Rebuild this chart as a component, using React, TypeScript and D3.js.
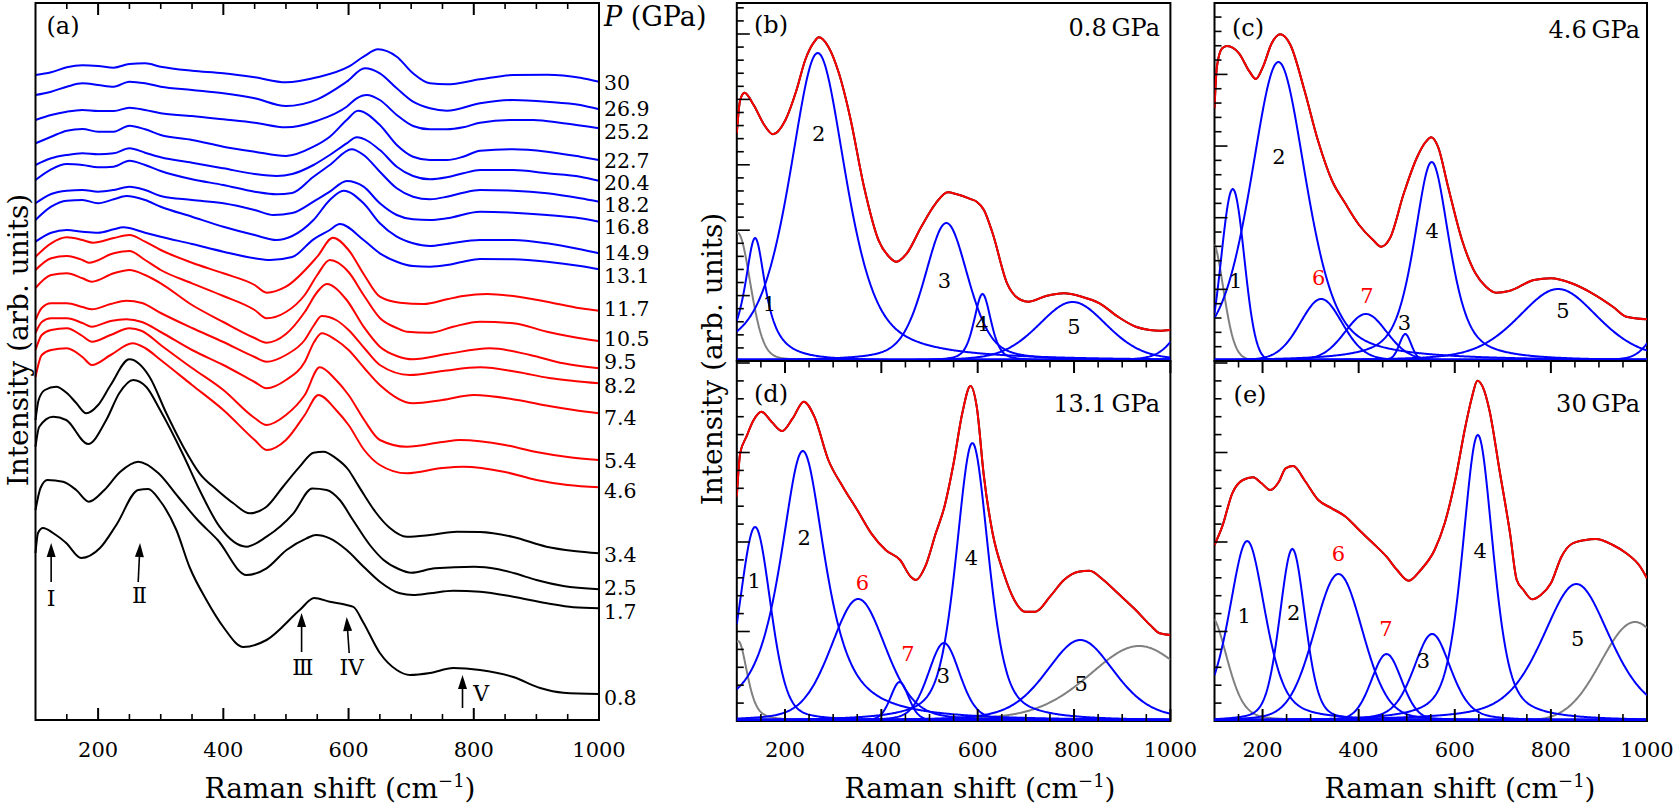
import React from 'react';
import * as d3 from 'd3';

type Pt = [number, number];
type Peak = { c: number; h: number; w: number; eta: number };

// ================= Panel (a): Raman shift (cm^-1) vs stacked intensity (arb. units) =================
const pressureLabels = ['30', '26.9', '25.2', '22.7', '20.4', '18.2', '16.8', '14.9', '13.1', '11.7', '10.5', '9.5', '8.2', '7.4', '5.4', '4.6', '3.4', '2.5', '1.7', '0.8'];

const spec30: Pt[] = [[100,645],[125,647.7],[150,652.7],[175,654.7],[200,654],[225,652.3],[250,656],[275,656.7],[300,653.3],[350,649.3],[400,646.7],[450,642.7],[500,637.7],[550,642.7],[600,653.3],[624,663.3],[647,670.7],[677,663.3],[703,646.7],[730,636.7],[757,635.7],[810,640.7],[863,645],[917,645.3],[970,642.3],[1000,638.3]];
const spec269: Pt[] = [[100,625],[125,628.3],[150,633.3],[175,636.7],[200,635],[225,633.3],[250,638.3],[275,636.7],[300,633.3],[350,630],[400,626.7],[450,621.7],[500,614],[550,620.7],[597,638.3],[626,651.7],[650,646.7],[677,631.7],[703,618.3],[730,611.7],[757,609.3],[810,616.7],[863,620],[917,618.3],[970,615],[1000,610.7]];
const spec252: Pt[] = [[100,600],[125,605],[150,608.3],[175,610],[200,609],[225,609],[250,612.3],[275,610],[300,606.7],[350,604],[400,600.7],[450,597.3],[500,592.7],[550,599.3],[597,613.3],[613,621.7],[629,625],[650,620],[677,605],[703,594],[730,590.7],[757,590.7],[783,592.7],[810,597.3],[863,600],[895,600],[943,596.7],[1000,591.7]];
const spec227: Pt[] = [[100,576.7],[125,583.3],[150,589.3],[175,591],[200,588.3],[225,588.3],[250,594.3],[275,590.7],[300,585],[350,580],[400,573.3],[450,568.3],[500,564],[544,573.3],[570,583.3],[597,600],[615,609.3],[650,595],[677,575],[703,563.3],[730,560],[757,560],[783,563.3],[810,569.3],[863,570.7],[917,568.3],[970,563.3],[1000,560]];
const spec204: Pt[] = [[100,555],[125,561.7],[150,565],[175,566.7],[200,565.7],[225,566.7],[250,571.7],[275,567.3],[300,562.7],[350,557.3],[400,551.7],[450,546],[485,544],[510,546],[544,555],[570,565],[597,576.7],[613,582.7],[650,570],[677,553.3],[703,544],[730,540.7],[757,542.7],[783,546.7],[810,550],[863,550],[917,546.7],[970,543.3],[1000,539.3]];
const spec182: Pt[] = [[100,540],[125,550.7],[150,556],[175,555],[200,552.7],[225,553.3],[250,559.3],[275,555],[300,549],[350,540.7],[400,535],[450,528.3],[485,525.7],[510,527],[544,543.3],[570,555],[605,570.7],[624,565],[650,548.3],[677,531.7],[703,523.3],[730,520.7],[757,523.3],[783,527.3],[810,530],[863,529.3],[917,526.7],[970,521.7],[1000,518.3]];
const spec168: Pt[] = [[100,516.7],[125,526],[150,529.3],[175,530],[200,528.3],[225,530],[250,533.3],[275,530],[300,524],[350,520],[400,516.7],[450,510],[480,505],[510,507],[544,518.3],[570,528.3],[597,539],[624,533.3],[650,516.7],[677,505],[703,500.7],[730,500],[757,501.7],[810,508.3],[863,507.3],[917,505],[970,501.7],[1000,498.3]];
const spec149: Pt[] = [[100,500],[125,513.3],[150,519.3],[175,520],[200,516.7],[225,520.7],[245,524],[275,520],[300,513.3],[350,503.3],[400,493.3],[450,485],[485,480],[510,484],[544,500],[570,520],[592,529.3],[624,516.7],[650,496.7],[677,483.3],[703,476.7],[730,474],[757,476],[810,480],[863,480],[917,476.7],[970,470.7],[1000,466.7]];
const spec131: Pt[] = [[100,478.3],[125,487.3],[150,490],[175,488.3],[200,487.3],[225,490.7],[240,492.7],[275,487.3],[300,483.3],[350,476],[400,468.3],[450,461.7],[475,460],[510,463],[544,480.7],[570,490],[586,496],[624,480],[650,466.7],[677,458.3],[703,454],[730,453.3],[757,455],[783,458.3],[810,461],[863,460.7],[917,458.3],[970,454],[1000,450.7]];
const spec117: Pt[] = [[100,463.3],[125,476.7],[150,482.7],[175,480],[192,477.3],[225,482],[250,485],[275,478.3],[300,470],[350,457.3],[400,446.7],[450,435],[469,427.3],[500,433.3],[550,463.3],[575,482.3],[600,470],[625,445],[650,423.3],[682,417.3],[720,416],[757,420.7],[783,424],[821,426],[863,424],[917,418.3],[970,411.7],[1000,409.3]];
const spec105: Pt[] = [[100,450],[125,461.7],[150,464],[175,460],[185,457.3],[225,466.7],[250,469],[275,460],[300,450],[350,436.7],[400,424],[450,410],[469,401.7],[500,408],[530,425],[550,445],[570,460],[600,448],[624,425],[650,402],[677,392],[693,388.3],[730,387.3],[767,393.3],[810,398.3],[863,396.7],[917,388.3],[970,381.7],[1000,379]];
const spec95: Pt[] = [[100,432],[125,445],[150,446.7],[175,441.7],[190,438.3],[225,446.7],[250,450],[275,445],[300,436.7],[350,415],[400,398],[450,382],[469,377.3],[500,386],[530,408],[550,428],[565,436],[597,420],[624,393.3],[650,373.3],[677,364],[703,360.7],[757,366],[826,371.7],[890,365],[943,356.7],[1000,351.7]];
const spec82: Pt[] = [[100,400],[110,412],[125,416.7],[150,416.7],[175,413],[190,410.7],[220,416],[245,419.3],[270,417],[300,407],[350,392],[400,378],[450,363],[469,358.3],[500,365],[530,380],[545,395],[557,404],[580,400],[600,390],[625,372],[650,355],[698,345],[750,349],[810,352.7],[870,348],[920,342],[960,339],[1000,336.7]];
const spec74: Pt[] = [[100,387],[110,398],[125,401.7],[150,401.7],[175,397],[190,393.3],[220,399],[245,400.7],[270,398],[300,388],[350,370],[400,355],[450,338],[469,331.7],[500,340],[530,358],[545,378],[557,386.7],[580,380],[600,370],[625,352],[650,335],[703,316.7],[750,320],[800,325],[870,320],[920,314],[960,310],[1000,306.7]];
const spec54: Pt[] = [[100,370],[110,385],[125,390],[150,391.7],[175,384],[190,378.3],[220,385],[250,391.7],[270,389],[300,375],[350,352],[400,330],[450,302],[469,295],[500,305],[530,325],[554,352.7],[580,340],[600,325],[625,300],[650,280],[693,273.3],[750,278],[778,280],[850,275],[900,268],[950,263],[1000,260]];
const spec46: Pt[] = [[100,343],[110,365],[125,370],[150,371.7],[175,363],[190,355],[220,365],[255,376.7],[275,372],[300,360],[350,335],[400,310],[450,280],[469,270],[500,280],[530,305],[552,325],[580,310],[600,295],[625,270],[650,255],[693,246.7],[750,252],[783,253.3],[850,248],[900,240],[950,235],[1000,232.7]];
const spec34: Pt[] = [[100,300],[105,320],[115,330],[133,333.3],[150,327],[165,317],[181,306.7],[200,315],[220,335],[250,360.7],[282,343.3],[309,306.7],[336,273.3],[362,246.7],[390,230],[416,216.7],[442,206.7],[469,213.3],[495,233],[522,253.3],[544,267.3],[560,268.3],[580,261.7],[600,250],[612,238],[625,225],[643,208],[666,192],[693,183.3],[730,185],[773,188.3],[810,188],[863,183],[916,173.3],[960,169],[1000,166.7]];
const spec25: Pt[] = [[100,273.3],[106,293.3],[128,303.3],[149,300],[184,276],[213,300],[234,327],[256,340],[277,333],[299,310],[336,265],[362,230],[394,193.3],[437,173.3],[469,183.3],[512,206.7],[542,231.5],[565,230],[586,220],[607,200],[634,175],[656,160],[680,151],[700,147.3],[738,151.7],[801,153.3],[837,151],[865,146.7],[900,140],[943,134],[1000,130.7]];
const spec17: Pt[] = [[100,210],[108,232],[119,240],[144,238.3],[165,230],[185,218.3],[210,230],[235,248],[264,258.3],[296,247],[328,223],[359,200],[391,180],[437,145],[469,151.7],[501,170],[533,181.7],[548,185],[570,181.7],[597,170],[624,153.3],[650,138.3],[682,126.7],[703,125],[730,126.7],[767,129.3],[810,128.3],[863,123.3],[917,116.7],[959,112.7],[1000,111.7]];
const spec08: Pt[] = [[100,167],[104,187],[112,192],[128,187],[149,177],[173,162],[203,172],[229,195],[264,230],[280,231],[298,220],[325,190],[346,153],[373,120],[400,93],[432,73],[469,80],[522,110],[545,122],[570,118.3],[597,115],[608,113],[624,97],[650,67],[677,50],[698,45],[730,47],[767,52],[810,50],[863,43],[906,32],[943,27.3],[1000,26]];

const spectraA: Pt[][] = [spec30, spec269, spec252, spec227, spec204, spec182, spec168, spec149, spec131, spec117, spec105, spec95, spec82, spec74, spec54, spec46, spec34, spec25, spec17, spec08];

// band markers I-V (Raman shift of tip/tail, intensity level of tip/tail and label)
const modeNames = ['I', 'II', 'III', 'IV', 'V'];
const modeTipShift = [125, 267, 525, 597, 782];
const modeTailShift = [125, 264, 525, 601, 782];
const modeTipLevel = [177, 177, 107, 103, 45];
const modeTailLevel = [138, 138, 68, 67, 12];
const modeLabelShift = [125, 264, 525, 605, 812];
const modeLabelLevel = [122, 125, 53, 53, 27];

// ================= Panels (b)-(e): measured/fit envelopes and fitted peaks =================
const fitB: Pt[] = [[100,227.7],[107,261],[116,268.3],[135,256],[157,236],[175,226.7],[201,241],[224,271],[242,301],[261,319.3],[270,323.7],[290,314.3],[312,287.7],[335,244.3],[364,174.3],[394,121],[416,104.3],[431,99.3],[453,107.7],[483,134.3],[513,157.7],[538,168.7],[557,166.7],[587,161.7],[598,159.3],[613,151],[631,127.7],[661,77.7],[690,61],[705,59.3],[742,65],[779,67.7],[816,64.3],[853,57.7],[891,44.3],[928,34.3],[957,31],[978,30.3],[1000,31]];
const fitC: Pt[] = [[100,252.7],[105,294.3],[116,312.7],[126,315],[151,307.7],[173,289.3],[186,282],[201,294.3],[219,317.7],[237,326.7],[258,316],[287,271],[315,221],[344,181],[372,157.7],[401,136],[430,121],[447,114.3],[465,122.7],[494,167.7],[522,204.3],[540,219.3],[551,223.7],[565,214.3],[586,174.3],[615,121],[643,87.7],[665,74.3],[686,68.3],[715,70.3],[765,81],[800,82.7],[843,77.7],[886,67.7],[929,54.3],[957,44.3],[1000,41.7]];
const fitD: Pt[] = [[100,224.3],[107,267.7],[120,284.3],[135,301],[151,309.3],[172,299.3],[194,290],[216,302.7],[239,319.3],[261,304.3],[290,261],[320,234.3],[350,211],[379,187.7],[409,171],[439,161],[461,144.3],[472,141],[491,154.3],[513,187.7],[531,214.3],[550,257.7],[568,307.7],[585,335],[598,314.3],[613,244.3],[631,187.7],[654,147.7],[676,121],[698,109.3],[720,109.3],[750,124.3],[779,141],[809,149.3],[832,150.3],[861,141],[891,127.7],[928,111],[958,96],[978,87.7],[1000,86]];
const fitE: Pt[] = [[100,176],[116,194.3],[137,227.7],[159,241],[180,243.7],[198,237.7],[216,231],[234,239.3],[248,252.7],[264,255],[287,241],[316,221],[344,212.7],[373,204.3],[401,191],[430,177.7],[458,164.3],[480,151],[504,140.3],[529,151],[558,171],[579,197.7],[601,241],[622,294.3],[636,324.3],[647,340.3],[658,334.3],[672,311],[693,251],[715,187.7],[729,141],[743,131],[761,121.7],[779,126],[800,137.7],[822,164.3],[843,177],[872,181],[893,182],[929,176],[957,167.7],[986,154.3],[1000,142.7]];

// fitted components: centre (cm^-1), height, FWHM (cm^-1), Lorentzian fraction
const peaksB: Peak[] = [{c:138,h:123,w:53,eta:1},{c:268,h:308,w:140,eta:0.6},{c:535,h:138,w:108,eta:0.4},{c:610,h:67,w:42,eta:0.5},{c:797,h:59,w:170,eta:0.3},{c:1040,h:38,w:80,eta:0.5}];
const grayB: Peak[] = [{c:102,h:128,w:62,eta:0.2}];
const peaksC: Peak[] = [{c:138,h:172,w:56,eta:0},{c:233,h:299,w:138,eta:0.5},{c:497,h:27,w:30,eta:0.3},{c:552,h:199,w:88,eta:0.6},{c:815,h:72,w:200,eta:0.4},{c:322,h:62,w:105,eta:0.2},{c:415,h:47,w:105,eta:0.2},{c:1050,h:50,w:80,eta:0.3}];
const grayC: Peak[] = [{c:95,h:120,w:55,eta:0.1}];
const peaksD: Peak[] = [{c:138,h:194,w:76,eta:0.3},{c:237,h:270,w:112,eta:0.8},{c:530,h:78,w:78,eta:0.3},{c:589,h:278,w:80,eta:0.5},{c:813,h:81,w:170,eta:0.4},{c:352,h:122,w:135,eta:0.3},{c:438,h:39,w:45,eta:0.3}];
const grayD: Peak[] = [{c:103,h:80,w:44,eta:0.5},{c:935,h:75,w:250,eta:0.3}];
const peaksE: Peak[] = [{c:168,h:180,w:90,eta:0.5},{c:262,h:172,w:63,eta:0.3},{c:553,h:87,w:92,eta:0.4},{c:648,h:286,w:76,eta:0.5},{c:853,h:137,w:170,eta:0.5},{c:358,h:147,w:120,eta:0.2},{c:458,h:67,w:75,eta:0.2}];
const grayE: Peak[] = [{c:92,h:105,w:80,eta:0.3},{c:975,h:99,w:165,eta:0}];

// peak labels: text, Raman shift, level
const peakLabelsB: [string, number, number][] = [['1',168,58],['2',270,228],['3',531,81],['4',609,38],['5',800,35]];
const peakLabelsC: [string, number, number][] = [['1',144,81],['2',234,205],['6',317,84],['7',417,66],['3',495,39],['4',553,131],['5',825,51]];
const peakLabelsD: [string, number, number][] = [['1',136,141],['2',240,184],['6',361,139],['7',455,68],['3',529,46],['4',587,164],['5',815,38]];
const peakLabelsE: [string, number, number][] = [['1',162,106],['2',265,109],['6',358,168],['7',457,93],['3',535,61],['4',653,171],['5',856,83]];

const panelTitles = ['(b)', '(c)', '(d)', '(e)'];
const panelPressures = ['0.8', '4.6', '13.1', '30'];

// ================= layout / style =================
const FONT = "'DejaVu Serif', serif";
const BLUE = '#0000ff';
const RED = '#ff0000';
const GRAY = '#808080';
const spectraColors = [...Array(9).fill(BLUE), ...Array(7).fill(RED), ...Array(4).fill('#000000')];
// vertical placement of the pressure labels (in panel-(a) intensity units)
const pressureLabelLevel = [638, 612, 589, 560, 537.5, 515.5, 494, 468, 445, 412, 382, 359, 335, 303, 260, 230, 166, 133, 109, 23];

const A = { left: 35.5, right: 599, top: 3, bottom: 720 };
const COLS = [{ left: 736.8, right: 1170.4 }, { left: 1214.5, right: 1647 }];
const ROWS = [{ top: 3, bottom: 361 }, { top: 361, bottom: 721 }];
const tickSteps = [13.08, 14.33, 17.9, 17.9];
const titlePos = [[771, 25, 1160, 27], [1248, 28, 1640, 29], [771, 394, 1160, 403], [1250, 395, 1640, 403]];

const grid = d3.range(100, 1000.001, 2);
function pv(p: Peak, v: number) {
  const t = ((v - p.c) / (p.w / 2)) ** 2;
  return p.h * (p.eta / (1 + t) + (1 - p.eta) * Math.exp(-Math.LN2 * t));
}

const majorX = d3.range(200, 1001, 200);
const minorX = d3.range(150, 1000, 50).filter((v) => v % 200 !== 0);

function RamanTitle({ cx, y }: { cx: number; y: number }) {
  return (
    <text x={cx} y={y} textAnchor="middle" fontFamily={FONT} fontSize={28} fill="#000">
      Raman shift (cm<tspan dy={-11} fontSize={18}>−1</tspan><tspan dy={11}>)</tspan>
    </text>
  );
}

function PanelA() {
  const x = d3.scaleLinear().domain([100, 1000]).range([A.left, A.right]);
  const y = d3.scaleLinear().domain([0, A.bottom - A.top]).range([A.bottom, A.top]);
  const line = d3.line<Pt>().x((d) => x(d[0])).y((d) => y(d[1])).curve(d3.curveMonotoneX);
  return (
    <g>
      {spectraA.map((s, i) => (
        <path key={i} d={line(s) || ''} fill="none" stroke={spectraColors[i]} strokeWidth={2} strokeLinejoin="round" />
      ))}
      <rect x={A.left} y={A.top} width={A.right - A.left} height={A.bottom - A.top} fill="none" stroke="#000" strokeWidth={2} />
      {majorX.map((v) => (
        <g key={'M' + v}>
          <line x1={x(v)} x2={x(v)} y1={A.bottom} y2={A.bottom - 12} stroke="#000" strokeWidth={2} />
          <line x1={x(v)} x2={x(v)} y1={A.top} y2={A.top + 12} stroke="#000" strokeWidth={2} />
          <text x={x(v)} y={757} textAnchor="middle" fontFamily={FONT} fontSize={21}>{v}</text>
        </g>
      ))}
      {minorX.map((v) => (
        <g key={'m' + v}>
          <line x1={x(v)} x2={x(v)} y1={A.bottom} y2={A.bottom - 6} stroke="#000" strokeWidth={1.6} />
          <line x1={x(v)} x2={x(v)} y1={A.top} y2={A.top + 6} stroke="#000" strokeWidth={1.6} />
        </g>
      ))}
      {modeNames.map((n, i) => {
        const tx = x(modeTipShift[i]);
        const ty = y(modeTipLevel[i]);
        const bx = x(modeTailShift[i]);
        const by = y(modeTailLevel[i]);
        const ang = Math.atan2(by - ty, bx - tx);
        const L = 14, Wd = 4.5;
        const hx = tx + L * Math.cos(ang), hy = ty + L * Math.sin(ang);
        const px = -Math.sin(ang) * Wd, py = Math.cos(ang) * Wd;
        return (
          <g key={n}>
            <line x1={hx} y1={hy} x2={bx} y2={by} stroke="#000" strokeWidth={1.6} />
            <polygon points={`${tx},${ty} ${hx + px},${hy + py} ${hx - px},${hy - py}`} fill="#000" />
            <text x={x(modeLabelShift[i])} y={y(modeLabelLevel[i]) + 8} textAnchor="middle" fontFamily={FONT} fontSize={22}
              letterSpacing={n === 'II' || n === 'III' ? -2.5 : 0}>{n}</text>
          </g>
        );
      })}
      <text x={63} y={34} textAnchor="middle" fontFamily={FONT} fontSize={24}>(a)</text>
      {pressureLabels.map((p, i) => (
        <text key={p} x={604} y={y(pressureLabelLevel[i]) + 7.5} fontFamily={FONT} fontSize={20.5}>{p}</text>
      ))}
      <text x={604} y={26} fontFamily={FONT} fontSize={27}>
        <tspan fontStyle="italic">P</tspan> (GPa)
      </text>
      <text transform="translate(18,340) rotate(-90)" textAnchor="middle" dominantBaseline="central" fontFamily={FONT} fontSize={28}>
        Intensity (arb. units)
      </text>
      <RamanTitle cx={340} y={798} />
    </g>
  );
}

function FitPanel({ idx, fit, peaks, gray, labels }: { idx: number; fit: Pt[]; peaks: Peak[]; gray: Peak[]; labels: [string, number, number][] }) {
  const col = COLS[idx % 2];
  const row = ROWS[Math.floor(idx / 2)];
  const x = d3.scaleLinear().domain([100, 1000]).range([col.left, col.right]);
  const y = d3.scaleLinear().domain([0, row.bottom - row.top]).range([row.bottom, row.top]);
  const line = d3.line<Pt>().x((d) => x(d[0])).y((d) => y(d[1])).curve(d3.curveMonotoneX);
  const compLine = d3.line<Pt>().x((d) => x(d[0])).y((d) => y(d[1]));
  const comp = (p: Peak) => compLine(grid.map((v) => [v, pv(p, v)] as Pt)) || '';
  const step = tickSteps[idx];
  const nT = Math.floor((row.bottom - row.top) / step - 0.05);
  const yT = d3.range(1, nT + 1);
  const clipId = 'clip' + idx;
  const tp = titlePos[idx];
  const bottomRow = idx >= 2;
  return (
    <g>
      <defs>
        <clipPath id={clipId}>
          <rect x={col.left} y={row.top} width={col.right - col.left} height={row.bottom - row.top} />
        </clipPath>
      </defs>
      <rect x={col.left} y={row.top} width={col.right - col.left} height={row.bottom - row.top} fill="none" stroke="#000" strokeWidth={2} />
      <g clipPath={`url(#${clipId})`}>
        {gray.map((p, i) => (
          <path key={'g' + i} d={comp(p)} fill="none" stroke={GRAY} strokeWidth={2} />
        ))}
        {peaks.map((p, i) => (
          <path key={'p' + i} d={comp(p)} fill="none" stroke={BLUE} strokeWidth={2} />
        ))}
        <line x1={x(100)} x2={x(1000)} y1={y(1.2)} y2={y(1.2)} stroke={BLUE} strokeWidth={3} />
        <path d={line(fit) || ''} fill="none" stroke="#000" strokeWidth={2} />
        <path d={line(fit) || ''} fill="none" stroke={RED} strokeWidth={2} />
      </g>
      {yT.map((k) => (
        <line key={'y' + k} x1={col.left} x2={col.left + (k % 5 === 0 ? 13 : 7)} y1={y(k * step)} y2={y(k * step)} stroke="#000" strokeWidth={1.6} />
      ))}
      {bottomRow && majorX.map((v) => (
        <g key={'M' + v}>
          <line x1={x(v)} x2={x(v)} y1={row.bottom} y2={row.bottom - 12} stroke="#000" strokeWidth={2} />
          <line x1={x(v)} x2={x(v)} y1={row.top} y2={row.top + 12} stroke="#000" strokeWidth={2} />
          <text x={x(v)} y={757} textAnchor="middle" fontFamily={FONT} fontSize={21}>{v}</text>
        </g>
      ))}
      {bottomRow && minorX.map((v) => (
        <g key={'m' + v}>
          <line x1={x(v)} x2={x(v)} y1={row.bottom} y2={row.bottom - 7} stroke="#000" strokeWidth={1.6} />
          <line x1={x(v)} x2={x(v)} y1={row.top} y2={row.top + 6.5} stroke="#000" strokeWidth={1.6} />
        </g>
      ))}
      {labels.map(([t, v, h], i) => (
        <text key={'l' + i} x={x(v)} y={y(h) + 7.5} textAnchor="middle" fontFamily={FONT} fontSize={21}
          fill={t === '6' || t === '7' ? RED : '#000'}>{t}</text>
      ))}
      <text x={tp[0]} y={tp[1] + 8} textAnchor="middle" fontFamily={FONT} fontSize={24}>{panelTitles[idx]}</text>
      <text x={tp[2]} y={tp[3] + 8.5} textAnchor="end" fontFamily={FONT} fontSize={24}>{panelPressures[idx] + '\u2009GPa'}</text>
    </g>
  );
}

export default function App() {
  return (
    <svg width={1676} height={805} viewBox="0 0 1676 805" style={{ position: 'absolute', left: 0, top: 0, background: '#fff' }}>
      <rect x={0} y={0} width={1676} height={805} fill="#fff" />
      <PanelA />
      <FitPanel idx={0} fit={fitB} peaks={peaksB} gray={grayB} labels={peakLabelsB} />
      <FitPanel idx={1} fit={fitC} peaks={peaksC} gray={grayC} labels={peakLabelsC} />
      <FitPanel idx={2} fit={fitD} peaks={peaksD} gray={grayD} labels={peakLabelsD} />
      <FitPanel idx={3} fit={fitE} peaks={peaksE} gray={grayE} labels={peakLabelsE} />
      <text transform="translate(712,359) rotate(-90)" textAnchor="middle" dominantBaseline="central" fontFamily={FONT} fontSize={28}>
        Intensity (arb. units)
      </text>
      <RamanTitle cx={980} y={798} />
      <RamanTitle cx={1460} y={798} />
    </svg>
  );
}
